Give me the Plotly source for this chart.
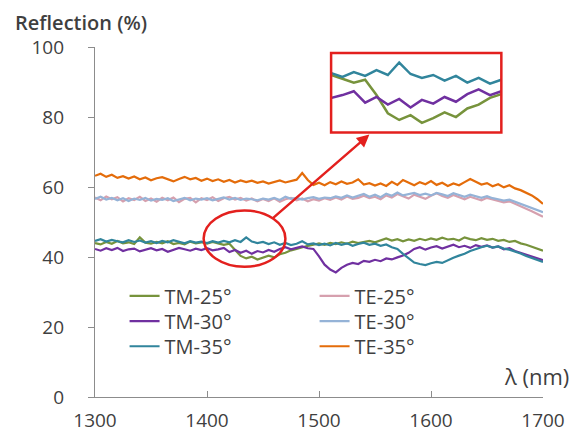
import plotly.graph_objects as go

wavelength = list(range(1300, 1705, 5))

te35 = [63.2, 63.8, 62.9, 63.5, 62.6, 63.1, 62.4, 63.0, 62.2, 62.7,
        61.9, 62.5, 62.8, 62.1, 61.6, 62.3, 62.9, 62.2, 62.6, 61.8,
        62.4, 61.7, 62.2, 61.5, 62.0, 61.3, 61.9, 61.4, 61.8, 61.2,
        61.6, 61.0, 61.5, 61.9, 61.3, 61.6, 62.1, 64.0, 62.0, 60.6,
        61.2, 60.5, 61.4, 60.8, 61.6, 60.9, 61.3, 62.2, 60.7, 61.1,
        60.4, 61.0, 60.3, 61.5, 60.6, 62.0, 61.2, 60.5, 61.4, 60.8,
        61.7, 60.6, 61.2, 60.3, 61.0, 60.5, 61.4, 62.3, 61.5, 60.7,
        61.1, 60.2, 60.8, 59.9, 60.5, 59.6, 59.1, 58.4, 57.6, 56.5,
        55.2]
te25 = [57.0, 56.2, 57.3, 56.5, 57.1, 55.9, 56.8, 56.3, 57.2, 56.0,
        56.7, 55.8, 56.9, 56.2, 57.0, 55.7, 56.6, 56.9, 55.6, 56.8,
        56.3, 57.1, 56.0, 56.8, 57.2, 56.4, 56.9, 56.1, 56.7, 55.9,
        56.6, 56.0, 56.8, 55.8, 56.5, 56.9, 56.2, 56.7, 55.9, 56.5,
        56.1, 56.8, 56.3, 57.0, 56.4, 57.3, 56.6, 56.9, 57.5, 56.8,
        57.2, 56.5, 57.6, 57.0, 58.0, 57.3, 56.7, 57.8, 57.1, 56.6,
        57.5, 58.2, 57.4, 56.9, 57.7, 57.1, 56.5, 57.2, 56.8, 56.2,
        56.9, 56.4, 56.0, 55.6, 55.9, 55.2, 54.6, 54.0, 53.1, 52.3,
        51.5]
te30 = [56.6, 57.2, 56.4, 56.9, 56.2, 56.8, 56.0, 56.7, 56.3, 56.9,
        56.1, 56.6, 56.3, 56.8, 56.0, 56.5, 56.9, 56.2, 56.7, 56.4,
        56.8, 56.2, 56.6, 57.0, 56.4, 56.9, 56.3, 56.7, 56.5, 56.2,
        56.7, 56.4, 56.9, 56.3, 57.2, 56.6, 56.9, 56.4, 56.8, 57.1,
        56.6, 57.0, 56.8, 57.3, 56.9, 57.6, 57.0, 57.4, 58.0, 57.2,
        57.8, 57.1, 58.1, 57.5, 58.4, 57.6, 57.9, 58.3, 57.7, 58.1,
        57.6, 58.3, 57.9, 57.4, 58.2, 57.6, 57.2, 57.8, 57.3, 56.9,
        57.4, 56.8, 56.5, 56.1, 56.4, 55.8, 55.3, 54.7, 54.0, 53.5,
        52.8]
tm25 = [44.0, 43.6, 44.3, 43.8, 44.6, 43.9, 44.2, 43.7, 45.6, 44.1,
        43.8, 44.3, 43.9, 44.5, 43.7, 44.0, 43.6, 44.4, 43.9, 44.2,
        43.8, 44.3, 43.9, 43.5, 43.8, 42.2, 40.3, 39.6, 40.1, 39.3,
        39.8, 40.4, 39.9, 40.8, 41.2, 41.9, 42.3, 42.8, 43.2, 43.5,
        43.9, 43.5, 44.0, 43.7, 44.2, 43.8, 44.4, 44.0, 44.3, 44.6,
        44.2, 44.8, 45.3, 44.7, 45.1, 44.5, 45.0, 44.6, 45.2, 44.8,
        45.3, 44.9, 45.5, 45.0, 45.2, 44.7, 45.6, 45.1, 44.8, 45.4,
        44.9, 45.2, 44.6, 44.9, 44.3, 44.6, 43.9, 43.5, 43.0, 42.4,
        41.8]
tm30 = [42.3, 41.8, 42.5, 42.0, 42.6, 41.7, 42.2, 42.4, 41.6, 42.1,
        42.5, 41.9, 42.3, 41.5, 42.0, 42.6, 42.2, 41.8, 42.4, 42.0,
        42.5, 41.9, 42.2, 42.6, 41.4, 42.0, 41.2, 41.8, 40.9, 41.7,
        41.3, 42.0, 41.5, 42.3, 42.8, 42.2, 42.6, 43.0, 42.5, 42.3,
        40.2, 37.8, 36.4, 35.6, 36.9, 37.8, 38.3, 38.0, 38.9, 38.6,
        39.2, 38.8, 39.6, 39.3, 39.9, 40.4, 41.2, 42.3, 42.8, 42.1,
        42.7, 43.1, 42.4, 42.9, 43.5, 42.8, 43.2, 42.6, 43.4, 42.9,
        43.3, 42.7, 43.0, 42.2, 42.5, 41.7, 41.2, 40.6, 40.0, 39.6,
        39.1]
tm35 = [44.6, 45.1, 44.4, 44.9, 44.5, 44.2, 44.8, 44.3, 44.7, 44.1,
        44.5, 44.0, 44.6, 44.2, 44.8, 44.3, 43.9, 44.5, 44.1, 44.4,
        44.0, 44.5, 44.1, 44.6, 44.2, 44.8, 44.3, 45.6, 44.4, 44.0,
        44.3, 43.7, 44.2, 43.5, 44.0, 43.4, 43.8, 44.5, 43.6, 43.9,
        43.4, 43.8, 43.3, 44.0, 43.5, 43.9, 43.2, 43.7, 44.1, 43.5,
        43.8, 43.2, 43.6, 42.8, 42.3, 40.9, 39.6, 38.4, 38.0, 37.7,
        38.2, 38.6, 38.3, 39.1, 39.8, 40.4, 40.9, 41.7, 42.3, 42.8,
        43.2, 42.7, 43.0, 42.4, 42.1, 41.6, 41.0, 40.3, 39.7, 39.2,
        38.6]

tm_names = ["TM-25°", "TM-30°", "TM-35°"]
te_names = ["TE-25°", "TE-30°", "TE-35°"]
x_ticks = [1300, 1400, 1500, 1600, 1700]
y_ticks = [0, 20, 40, 60, 80, 100]

tm_series = [tm25, tm30, tm35]
te_series = [te25, te30, te35]
tm_colors = ["#77933C", "#7030A0", "#31859C"]
te_colors = ["#D6A0AE", "#95B3D7", "#E46C0A"]

FONT = "Open Sans, Noto Sans, sans-serif"
TXT = "#3F3F3F"
RED = "#E3201E"

# page body has an 8px margin -> figure is laid out 8px smaller
W, H = 569, 437
L, R, T, B = 87, 30, 39, 38

fig = go.Figure()
legend_ids = ["legend", "legend2", "legend3"]
for i in range(3):
    fig.add_trace(go.Scatter(x=wavelength, y=tm_series[i], mode="lines", name=tm_names[i],
                             line=dict(color=tm_colors[i], width=2.2), legend=legend_ids[i]))
    fig.add_trace(go.Scatter(x=wavelength, y=te_series[i], mode="lines", name=te_names[i],
                             line=dict(color=te_colors[i], width=2.2), legend=legend_ids[i]))
# inset (zoom of circled region)
for name, ys, c in zip(tm_names, tm_series, tm_colors):
    fig.add_trace(go.Scatter(x=wavelength, y=ys, mode="lines", name=name,
                             line=dict(color=c, width=2.5), showlegend=False,
                             xaxis="x2", yaxis="y2"))

inset_x = [0.527, 0.907]
inset_y = [0.756, 0.983]

row_y = [0.289, 0.217, 0.145]
leg_common = dict(orientation="h", x=0.066, xanchor="left", yanchor="middle",
                  bgcolor="rgba(0,0,0,0)", font=dict(size=20, color=TXT),
                  entrywidth=145, entrywidthmode="pixels", itemwidth=30)

fig.update_layout(
    width=W, height=H,
    margin=dict(l=L, r=R, t=T, b=B),
    paper_bgcolor="white", plot_bgcolor="white",
    font=dict(family=FONT, color=TXT, size=19),
    xaxis=dict(range=[1300, 1700], tickvals=x_ticks, showgrid=False, zeroline=False,
               showline=True, linecolor="#8C8C8C", linewidth=1.3,
               ticks="inside", ticklen=6, tickcolor="#8C8C8C",
               tickfont=dict(size=19, color=TXT), ticklabelstandoff=6),
    yaxis=dict(range=[0, 100], tickvals=y_ticks, showgrid=False, zeroline=False,
               showline=True, linecolor="#8C8C8C", linewidth=1.3,
               ticks="outside", ticklen=6, tickcolor="#8C8C8C",
               tickfont=dict(size=19, color=TXT), ticklabelstandoff=20),
    xaxis2=dict(domain=inset_x, anchor="y2", range=[1405, 1480], visible=False),
    yaxis2=dict(domain=inset_y, anchor="x2", range=[38.3, 46.6], visible=False),
    legend=dict(y=row_y[0], **leg_common),
    legend2=dict(y=row_y[1], **leg_common),
    legend3=dict(y=row_y[2], **leg_common),
    showlegend=True,
)

# ellipse around zoomed region
fig.add_shape(type="circle", xref="x", yref="y", x0=1397, x1=1470, y0=37.2, y1=53.3,
              line=dict(color=RED, width=2.5))
# inset frame
fig.add_shape(type="rect", xref="paper", yref="paper",
              x0=inset_x[0], x1=inset_x[1], y0=inset_y[0], y1=inset_y[1],
              line=dict(color=RED, width=2.5))
# arrow
fig.add_annotation(x=1545, y=75, ax=1457, ay=50.6, xref="x", yref="y",
                   axref="x", ayref="y", showarrow=True, arrowhead=2,
                   arrowsize=1, arrowwidth=2.5, arrowcolor=RED, text="")
# axis titles
fig.add_annotation(text="Reflection (%)", xref="paper", yref="paper",
                   x=-0.182, y=1.069, xanchor="left", yanchor="middle",
                   showarrow=False, font=dict(size=20, color=TXT, weight=600))
fig.add_annotation(text="λ (nm)", xref="paper", yref="paper",
                   x=1.062, y=0.061, xanchor="right", yanchor="middle",
                   showarrow=False, font=dict(size=22, color=TXT))

fig.write_html("out.html")
